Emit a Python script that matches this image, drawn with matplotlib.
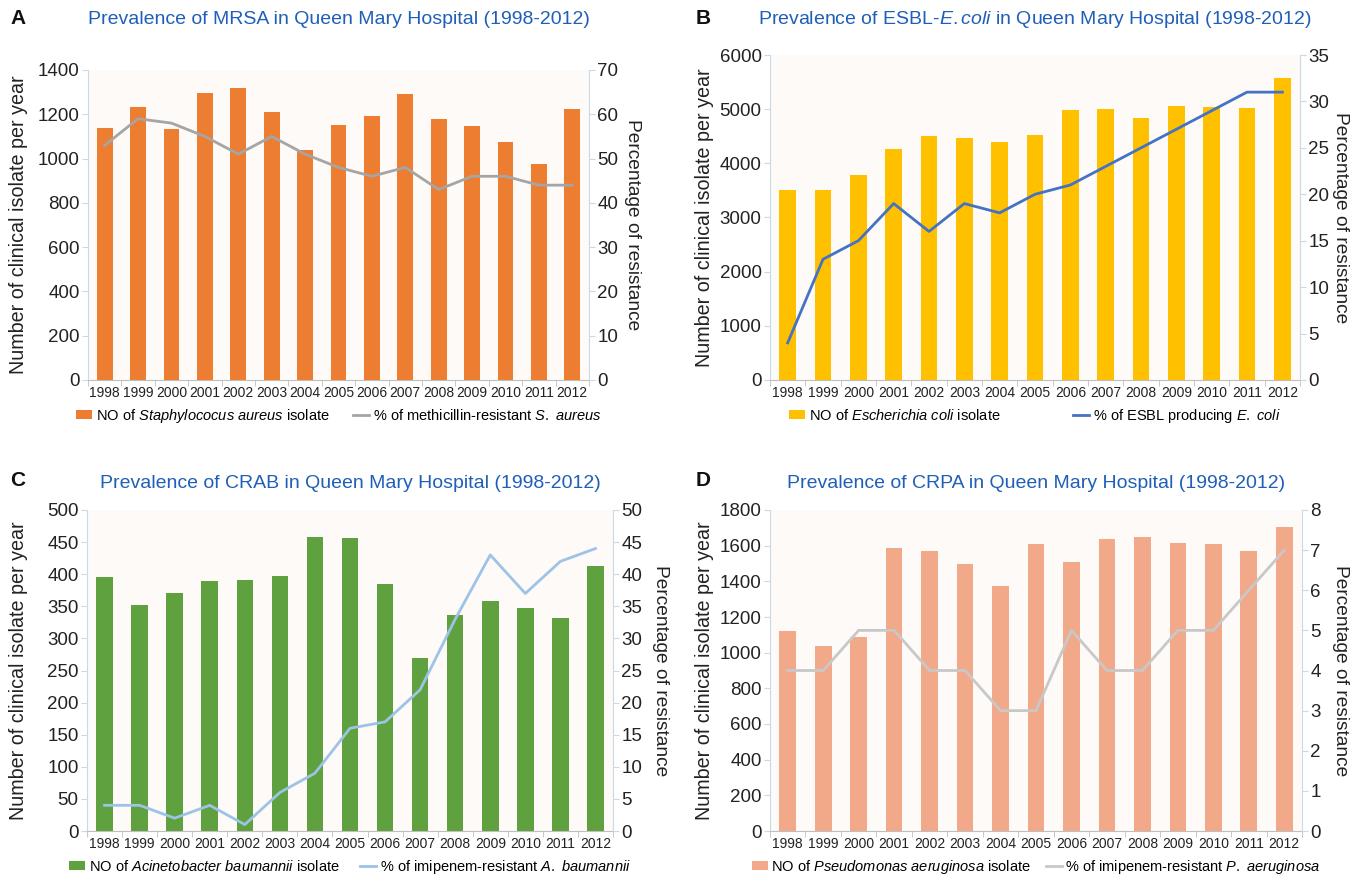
import numpy as np
import matplotlib
matplotlib.use("Agg")
import matplotlib.pyplot as plt
from matplotlib.ticker import MultipleLocator, FixedLocator, NullFormatter

plt.rcParams['font.family'] = ['Liberation Sans', 'DejaVu Sans']
plt.rcParams['mathtext.fontset'] = 'custom'
plt.rcParams['mathtext.rm'] = 'Liberation Sans'
plt.rcParams['mathtext.it'] = 'Liberation Sans:italic'

years = [str(y) for y in range(1998, 2013)]

# A - MRSA
mrsa_isolates = [1138, 1235, 1135, 1295, 1320, 1210, 1040, 1150, 1190, 1290, 1180, 1145, 1075, 975, 1225]
mrsa_pct = [53, 59, 58, 55, 51, 55, 51, 48, 46, 48, 43, 46, 46, 44, 44]

# B - ESBL E. coli
ecoli_isolates = [3500, 3500, 3780, 4260, 4510, 4460, 4390, 4520, 4980, 5000, 4840, 5060, 5040, 5020, 5570]
ecoli_pct = [4, 13, 15, 19, 16, 19, 18, 20, 21, 23, 25, 27, 29, 31, 31]

# C - CRAB
crab_isolates = [395, 352, 370, 390, 391, 397, 458, 456, 385, 269, 336, 359, 347, 332, 413]
crab_pct = [4, 4, 2, 4, 1, 6, 9, 16, 17, 22, 33, 43, 37, 42, 44]

# D - CRPA
crpa_isolates = [1120, 1040, 1090, 1585, 1570, 1495, 1375, 1610, 1510, 1640, 1650, 1615, 1610, 1570, 1705]
crpa_pct = [4, 4, 5, 5, 4, 4, 3, 3, 5, 4, 4, 5, 5, 6, 7]

W, H = 1363, 874
title_color = '#1F5FB8'
spine_color = '#C9D9E6'
text_color = '#222222'

fig = plt.figure(figsize=(W / 100, H / 100), dpi=100)


def panel(box, title, title_y, counts, pct, bar_color, line_color,
          ymax, ystep, rmax, rstep, bar_label, line_label, ylab_x, rlab_x, colsp):
    # box = (left, top, right, bottom) in pixels from the top-left corner
    l, t, r, b = box
    wpx, hpx = r - l, b - t
    ax = fig.add_axes([l / W, 1 - b / H, wpx / W, hpx / H])
    ax.set_facecolor('#FDFAF8')
    x = np.arange(len(years))
    bars = ax.bar(x, counts, width=0.47, color=bar_color, zorder=2)
    ax.set_xlim(-0.5, len(years) - 0.5)
    ax.set_ylim(0, ymax)
    ax.yaxis.set_major_locator(MultipleLocator(ystep))
    ax.set_xticks(x)
    ax.set_xticklabels(years, fontsize=10, color=text_color)
    ax.xaxis.set_minor_locator(FixedLocator(np.arange(-0.5, len(years), 1.0)))
    ax.xaxis.set_minor_formatter(NullFormatter())
    ax.tick_params(axis='x', which='major', length=0, pad=4)
    ax.tick_params(axis='x', which='minor', length=4, color='#BFBFBF')
    ax.tick_params(axis='y', labelsize=13.5, length=4, color=spine_color, pad=2, labelcolor=text_color)
    for s in ('top', 'right'):
        ax.spines[s].set_visible(False)
    ax.spines['left'].set_color(spine_color)
    ax.spines['bottom'].set_color('#BFBFBF')
    ax.set_ylabel('Number of clinical isolate per year', fontsize=14.2, color=text_color, va='center')
    ax.yaxis.set_label_coords((ylab_x - l) / wpx, 0.5)

    ax2 = ax.twinx()
    line, = ax2.plot(x, pct, color=line_color, lw=2.0, zorder=3)
    ax2.set_ylim(0, rmax)
    ax2.yaxis.set_major_locator(MultipleLocator(rstep))
    ax2.tick_params(axis='y', labelsize=13.5, length=4, color=spine_color, pad=2, labelcolor=text_color)
    for s in ('top', 'left', 'bottom'):
        ax2.spines[s].set_visible(False)
    ax2.spines['right'].set_color(spine_color)
    ax2.set_ylabel('Percentage of resistance', fontsize=13.8, rotation=270,
                   color=text_color, va='center')
    ax2.yaxis.set_label_coords((rlab_x - l) / wpx, 0.5)

    ax.legend([bars, line], [bar_label, line_label], loc='center',
              bbox_to_anchor=(0.5, -36 / hpx), ncol=2, frameon=False, fontsize=10.5,
              handlelength=1.1, handleheight=0.55, columnspacing=colsp, handletextpad=0.25)

    fig.text((l + r) / 2 / W, 1 - title_y / H, title,
             ha='center', va='center', fontsize=14, color=title_color)
    return ax


panel((88, 70, 589, 380), 'Prevalence of MRSA in Queen Mary Hospital (1998-2012)', 19,
      mrsa_isolates, mrsa_pct, '#ED7D31', '#A5A5A5', 1400, 200, 70, 10,
      r'NO of $\it{Staphylococus}$ $\it{aureus}$ isolate',
      r'% of methicillin-resistant $\it{S.}$ $\it{aureus}$', 19, 633, 1.6)
panel((770, 55, 1300, 380), r'Prevalence of ESBL-$\it{E.coli}$ in Queen Mary Hospital (1998-2012)', 20,
      ecoli_isolates, ecoli_pct, '#FFC000', '#4472C4', 6000, 1000, 35, 5,
      r'NO of $\it{Escherichia}$ $\it{coli}$ isolate',
      r'% of ESBL producing $\it{E.}$ $\it{coli}$', 704, 1341, 5.0)
panel((87, 510, 613, 831), 'Prevalence of CRAB in Queen Mary Hospital (1998-2012)', 483,
      crab_isolates, crab_pct, '#5FA03F', '#9DC3E6', 500, 50, 50, 5,
      r'NO of $\it{Acinetobacter}$ $\it{baumannii}$ isolate',
      r'% of imipenem-resistant $\it{A.}$ $\it{baumannii}$', 19, 661, 1.4)
panel((770, 510, 1302, 831), 'Prevalence of CRPA in Queen Mary Hospital (1998-2012)', 483,
      crpa_isolates, crpa_pct, '#F2A98A', '#C8C8C8', 1800, 200, 8, 1,
      r'NO of $\it{Pseudomonas}$ $\it{aeruginosa}$ isolate',
      r'% of imipenem-resistant $\it{P.}$ $\it{aeruginosa}$', 704, 1341, 1.0)

for letter, (lx, ly) in zip('ABCD', [(10, 18), (696, 18), (10, 481), (696, 481)]):
    fig.text(lx / W, 1 - ly / H, letter, fontsize=15, fontweight='bold',
             ha='left', va='center', color='#111111')

fig.savefig('out.png', dpi=100, facecolor='white')
